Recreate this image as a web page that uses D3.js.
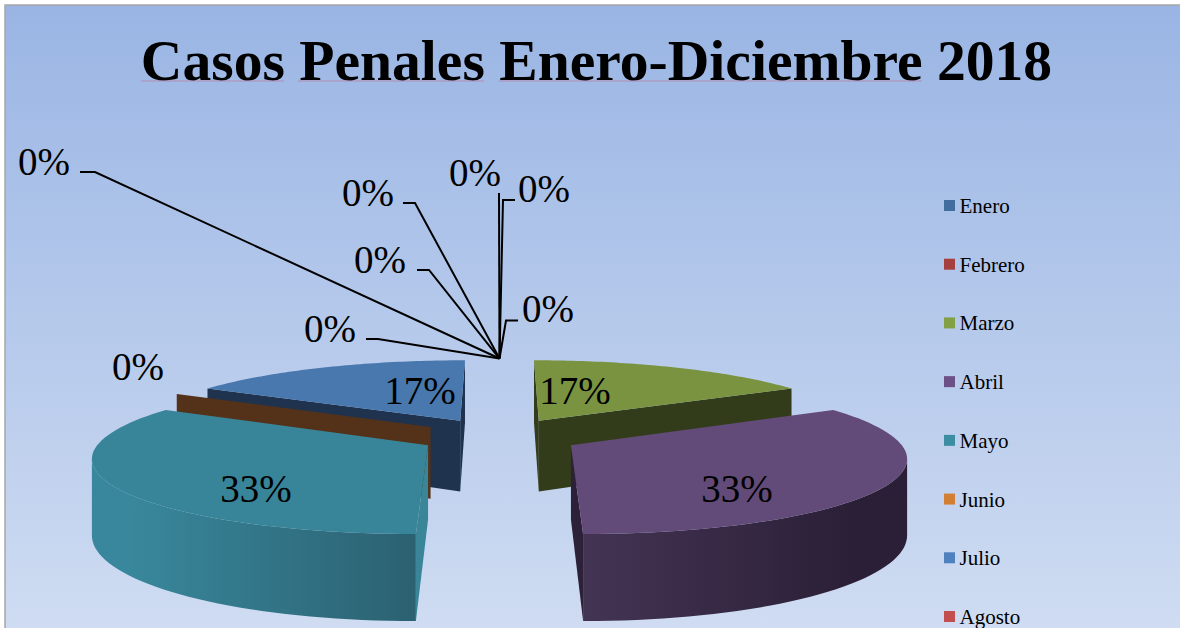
<!DOCTYPE html>
<html>
<head>
<meta charset="utf-8">
<script src="https://cdn.jsdelivr.net/npm/d3@7"></script>
<style>
  body { margin: 0; background: #fff; overflow: hidden; }
  text { font-family: "Liberation Serif", "Times New Roman", serif; fill: #000; }
</style>
</head>
<body>
<div id="chart"></div>
<script>
// values
var meses = ["Enero", "Febrero", "Marzo", "Abril", "Mayo", "Junio", "Julio", "Agosto",
    "Septiembre", "Octubre", "Noviembre", "Diciembre"];
var casos = [0, 0, 1, 2, 2, 0, 1, 0, 0, 0, 0, 0];

var legend_colors = ["#416e9e", "#a5403e", "#82a044", "#6c5088", "#3d8ea3", "#d27f36",
    "#4e81bd", "#c24f4d", "#8064a2", "#4bacc6", "#f79646", "#95b3d7"];
var top_colors = ["#416e9e", "#a5403e", "#7a9340", "#624b78", "#38859a", "#d27f36",
    "#4978ae", "#c24f4d", "#8064a2", "#4bacc6", "#f79646", "#95b3d7"];
var wall_colors = ["#203650", "#52201f", "#333c1a", "#2d2139", "#3a8598", "#54321a",
    "#1f334f", "#612726", "#403251", "#255663", "#7b4b23", "#4a596b"];

// hand placed data labels, [x, y] of the text baseline centre, in the order of meses
var label_pos = [[44, 175], [368, 206], [575, 404], [737, 502], [256, 502], [138, 380],
    [420, 404], [330, 342], [380, 273], [475, 186], [544, 202], [548, 322]];
// leader elbows for the zero slices, two points before the run to the slice
var leader_pos = {
    0: [[80, 172], [95, 172]],
    1: [[403, 203], [415, 203]],
    7: [[366, 339], [378, 339]],
    8: [[417, 270], [429, 270]],
    9: [[499, 193], [499, 193]],
    10: [[515, 200], [503, 200]],
    11: [[518, 320.5], [506, 320.5]]
};

var width = 1180, height = 628;

var svg = d3.select("#chart").append("svg")
    .attr("width", width)
    .attr("height", height)
    .style("display", "block");

var defs = svg.append("defs");

var bg = defs.append("linearGradient").attr("id", "bg")
    .attr("gradientUnits", "userSpaceOnUse")
    .attr("x1", 0).attr("y1", 5).attr("x2", 0).attr("y2", 628);
bg.append("stop").attr("offset", 0).attr("stop-color", "#9ab5e4");
bg.append("stop").attr("offset", 1).attr("stop-color", "#cfdcf2");

function wallGradient(id, x1, x2, c1, c2) {
    var g = defs.append("linearGradient").attr("id", id)
        .attr("gradientUnits", "userSpaceOnUse")
        .attr("x1", x1).attr("y1", 0).attr("x2", x2).attr("y2", 0);
    g.append("stop").attr("offset", 0).attr("stop-color", c1);
    g.append("stop").attr("offset", 1).attr("stop-color", c2);
}
wallGradient("wall3", 581, 860, "#443454", "#2a1f36");
wallGradient("wall4", 130, 416, "#39879c", "#2b6171");

svg.append("rect")
    .attr("x", 5).attr("y", 5)
    .attr("width", 1180).attr("height", 640)
    .attr("fill", "url(#bg)")
    .attr("stroke", "#a6a6a6")
    .attr("stroke-width", 1.5);

svg.append("text")
    .attr("x", 596.5)
    .attr("y", 80)
    .attr("text-anchor", "middle")
    .attr("font-size", 57.6)
    .style("font-weight", "bold")
    .text("Casos Penales Enero-Diciembre 2018");

// spell check squiggles under the title
[[141, 284], [298, 484], [499, 922]].forEach(function (s) {
    svg.append("line")
        .attr("x1", s[0]).attr("x2", s[1])
        .attr("y1", 81).attr("y2", 81)
        .attr("stroke", "#c9617f")
        .attr("stroke-opacity", 0.5);
});

// pie, tilted and exploded
var cx = 499.5, cy = 436, radius = 325, explode = 81, tilt = 0.225, persp = 2270, thick = 73;

var total = d3.sum(casos);
var pct = d3.format(".0%");
var slices = d3.pie().sort(null).startAngle(0).endAngle(2 * Math.PI)(casos);

function project(d, angle, r, z) {
    var mid = (d.startAngle + d.endAngle) / 2;
    var x3 = explode * Math.sin(mid) + r * Math.sin(angle);
    var y3 = explode * Math.cos(mid) + r * Math.cos(angle);
    var s = 1 / (1 + y3 / persp);
    return [cx + x3 * s, cy - y3 * tilt * s + z * s];
}

var line = d3.line();

function arcPoints(d, z) {
    var n = 60, pts = [];
    for (var k = 0; k <= n; k++) {
        pts.push(project(d, d.startAngle + (d.endAngle - d.startAngle) * k / n, radius, z));
    }
    return pts;
}

function wall(d, angle) {
    return line([project(d, 0, 0, 0), project(d, angle, radius, 0),
        project(d, angle, radius, thick), project(d, 0, 0, thick)]) + "Z";
}

// part of the rim between the widest point of the slice and its front edge
function frontRim(d) {
    var top_pts = arcPoints(d, 0);
    var bottom_pts = arcPoints(d, thick);
    var xs = top_pts.map(function (p) { return p[0]; });
    if (Math.sin((d.startAngle + d.endAngle) / 2) > 0) {
        var from = d3.maxIndex(xs);
        return top_pts.slice(from).concat(bottom_pts.slice(from).reverse());
    }
    var to = d3.minIndex(xs) + 1;
    return top_pts.slice(0, to).concat(bottom_pts.slice(0, to).reverse());
}

var draw_order = [0, 1, 6, 7, 8, 9, 10, 11, 2, 5, 4, 3];
var pie_g = svg.append("g");

draw_order.forEach(function (i) {
    var d = slices[i];
    var g = pie_g.append("g");
    // outer wall only where it faces the viewer
    if (Math.cos((d.startAngle + d.endAngle) / 2) < -0.1) {
        g.append("path")
            .attr("d", line(frontRim(d)) + "Z")
            .attr("fill", "url(#wall" + i + ")");
    }
    // a side wall is seen when its outward normal does not point to the back
    if (Math.cos(d.startAngle - Math.PI / 2) < 1e-6) {
        g.append("path").attr("d", wall(d, d.startAngle)).attr("fill", wall_colors[i]);
    }
    if (Math.cos(d.endAngle + Math.PI / 2) < 1e-6) {
        g.append("path").attr("d", wall(d, d.endAngle)).attr("fill", wall_colors[i]);
    }
    if (d.value > 0) {
        g.append("path")
            .attr("d", line([project(d, 0, 0, 0)].concat(arcPoints(d, 0))) + "Z")
            .attr("fill", top_colors[i]);
    }
});

// leader lines of the zero slices
Object.keys(leader_pos).forEach(function (i) {
    var d = slices[i];
    var tip = project(d, d.startAngle, radius, 0);
    svg.append("path")
        .attr("d", line(leader_pos[i].concat([tip])))
        .attr("fill", "none")
        .attr("stroke", "#000")
        .attr("stroke-width", 2);
});

svg.selectAll("text.label")
    .data(slices)
    .join("text")
    .attr("class", "label")
    .attr("x", function (d, i) { return label_pos[i][0]; })
    .attr("y", function (d, i) { return label_pos[i][1]; })
    .attr("text-anchor", "middle")
    .attr("font-size", 39)
    .text(function (d) { return pct(d.value / total); });

// legend, the page cuts it after Agosto
var legend_y = d3.scaleLinear().domain([0, 7]).range([205.5, 616.5]);
var legend = svg.selectAll("g.legend")
    .data(meses.slice(0, 8))
    .join("g")
    .attr("class", "legend")
    .attr("transform", function (d, i) { return "translate(944," + legend_y(i) + ")"; });

legend.append("rect")
    .attr("x", 0).attr("y", -5.5)
    .attr("width", 11).attr("height", 11)
    .attr("fill", function (d, i) { return legend_colors[i]; });

legend.append("text")
    .attr("x", 15.5)
    .attr("y", 7.5)
    .attr("font-size", 21)
    .text(function (d) { return d; });
</script>
</body>
</html>
